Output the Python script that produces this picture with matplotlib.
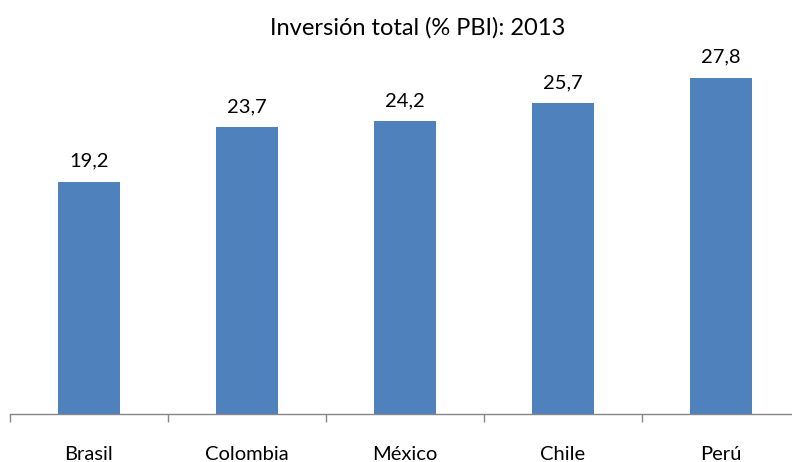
import matplotlib
matplotlib.use('Agg')
import matplotlib.pyplot as plt

# Datos
paises = ['Brasil', 'Colombia', 'México', 'Chile', 'Perú']
inversion = [19.2, 23.7, 24.2, 25.7, 27.8]
etiquetas = ['19,2', '23,7', '24,2', '25,7', '27,8']

plt.rcParams['font.family'] = ['Lato', 'DejaVu Sans']

fig = plt.figure(figsize=(7.92, 4.62), dpi=100)
ax = fig.add_axes([10 / 792, 48 / 462, 790 / 792, 363 / 462])

x = range(len(paises))
ax.bar(x, inversion, width=0.39, color='#4f81bd')

for i, v in enumerate(inversion):
    ax.text(i, v + 1.25, etiquetas[i], ha='center', va='baseline', fontsize=14.5, color='black')

ax.set_xlim(-0.5, len(paises) - 0.5)
ax.set_ylim(0, 30)

ax.set_xticks([i - 0.5 for i in range(len(paises) + 1)])
ax.set_xticklabels([])
ax.set_xticks(list(x), minor=True)
ax.set_xticklabels(paises, minor=True, fontsize=14.5)
ax.tick_params(axis='x', which='major', length=6, width=1, color='#868686', direction='out')
ax.tick_params(axis='x', which='minor', length=0, pad=23)
ax.set_yticks([])

for s in ['top', 'right', 'left']:
    ax.spines[s].set_visible(False)
ax.spines['bottom'].set_color('#868686')
ax.spines['bottom'].set_linewidth(1)

fig.text(0.527, 0.94, 'Inversión total (% PBI): 2013', ha='center', va='center', fontsize=17)

fig.savefig('out.png', dpi=100)
